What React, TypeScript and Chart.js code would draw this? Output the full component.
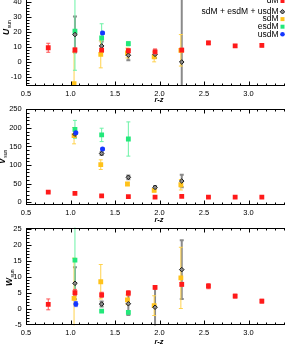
import React, { useEffect, useRef } from 'react';
import { Chart, registerables } from 'chart.js';

Chart.register(...registerables);

const FONT = "'Liberation Sans', Arial, Helvetica, sans-serif";

// ---- x positions (r-z colour bins) ----
const dmX = [0.75, 1.05, 1.35, 1.65, 1.95, 2.25, 2.55, 2.85, 3.15];
const sdmX = [1.04, 1.34, 1.64, 1.94, 2.24];
const esdmX = [1.05, 1.35, 1.65];
const usdmX = [1.06, 1.36];
const allX = [1.05, 1.35, 1.65, 1.95, 2.25];

// ---- U ----
const uDm = [9.7, 8.2, 8.1, 7.7, 6.9, 8.1, 12.9, 10.9, 11.3];
const uDmErr = [3.0, 1.3, 1.2, 1.2, 2.0, 1.3, 1.2, 1.0, 1.0];
const uSdm = [-14.2, 5.3, 6.2, 3.6, 8.0];
const uSdmErr = [21, 9, 3.3, 3.3, 10.5];
const uEsdm = [20.7, 16.2, 12.4];
const uEsdmErr = [26, 9.5, 1.5];
const uUsdm: (number | null)[] = [null, 19.6];
const uUsdmErr = [0, 1];
const uAll = [18.5, 10.9, 4.7, 5.3, 0.2];
const uAllErr = [12, 3, 3.3, 2.5, 80];

// ---- V ----
const vDm = [27, 24, 17, 15, 14, 16, 14, 14, 14];
const vDmErr = [2, 2, 2, 2, 2, 2, 2, 2, 2];
const vSdm = [179, 101, 49, 32, 47];
const vSdmErr = [22, 13, 4, 4, 14];
const vEsdm = [196, 181, 170];
const vEsdmErr = [24, 18, 46];
const vUsdm: (number | null)[] = [187, 143];
const vUsdmErr = [3, 3];
const vAll = [183, 131, 67, 40, 57];
const vAllErr = [8, 4, 5, 4, 17];

// ---- W ----
const wDm = [1.3, 5.0, 4.3, 4.8, 6.6, 7.6, 7.0, 3.9, 2.3];
const wDmErr = [1.7, 1.0, 0.8, 0.8, 0.5, 0.6, 0.8, 0.6, 0.6];
const wSdm = [3.2, 8.4, 2.7, 0.9, 9.6];
const wSdmErr = [12.6, 5.4, 1.5, 3.1, 9.6];
const wEsdm = [15.2, -0.8, -1.2];
const wEsdmErr = [11, 0.3, 0.3];
const wUsdm: (number | null)[] = [1.4, null];
const wUsdmErr = [0.8, 0];
const wAll = [7.9, 1.4, 1.5, 0.4, 12.2];
const wAllErr = [5, 0.8, 3.5, 6.2, 9.2];

const legendLabels = ['dM', 'sdM + esdM + usdM', 'sdM', 'esdM', 'usdM'];
const xTitle = 'r-z';

const STY = {
  dm: { color: '#ff1a1a', err: '#ff5252', errW: 1, style: 'rect', r: 3.4 },
  all: { color: '#1a1a1a', err: '#8a8a8a', errW: 2, style: 'rectRot', r: 2.3 },
  sdm: { color: '#ffc21a', err: '#ffd24d', errW: 1, style: 'rect', r: 3.4 },
  esdm: { color: '#22e87a', err: '#6cf2a6', errW: 1, style: 'rect', r: 3.4 },
  usdm: { color: '#1436ff', err: '#5c74ff', errW: 1, style: 'circle', r: 2.5 },
};

type PanelCfg = {
  top: number;
  height: number;
  padTop: number;
  xAxisH: number;
  yMin: number;
  yMax: number;
  yStep: number;
  yMinor: number;
  letter: string;
  titleX: number;
  titleY: number;
  xTitleOff: number;
  legend: boolean;
  series: { key: keyof typeof STY; xs: number[]; ys: (number | null)[]; es: number[] }[];
};

const PANELS: PanelCfg[] = [
  {
    top: -15, height: 122, padTop: 9.8, xAxisH: 21.45,
    yMin: -15.5, yMax: 45, yStep: 10, yMinor: 2,
    letter: 'U', titleX: 7, titleY: 35, xTitleOff: 14.7, legend: true,
    series: [
      { key: 'dm', xs: dmX, ys: uDm, es: uDmErr },
      { key: 'usdm', xs: usdmX, ys: uUsdm, es: uUsdmErr },
      { key: 'all', xs: allX, ys: uAll, es: uAllErr },
      { key: 'esdm', xs: esdmX, ys: uEsdm, es: uEsdmErr },
      { key: 'sdm', xs: sdmX, ys: uSdm, es: uSdmErr },
    ],
  },
  {
    top: 98, height: 130, padTop: 10.5, xAxisH: 23.15,
    yMin: -7, yMax: 252, yStep: 50, yMinor: 10,
    letter: 'V', titleX: 3, titleY: 164, xTitleOff: 15.3, legend: false,
    series: [
      { key: 'dm', xs: dmX, ys: vDm, es: vDmErr },
      { key: 'usdm', xs: usdmX, ys: vUsdm, es: vUsdmErr },
      { key: 'all', xs: allX, ys: vAll, es: vAllErr },
      { key: 'esdm', xs: esdmX, ys: vEsdm, es: vEsdmErr },
      { key: 'sdm', xs: sdmX, ys: vSdm, es: vSdmErr },
    ],
  },
  {
    top: 218, height: 126, padTop: 9.5, xAxisH: 18.57,
    yMin: -5.3, yMax: 25.4, yStep: 5, yMinor: 1,
    letter: 'W', titleX: 10, titleY: 286, xTitleOff: 16.3, legend: false,
    series: [
      { key: 'dm', xs: dmX, ys: wDm, es: wDmErr },
      { key: 'usdm', xs: usdmX, ys: wUsdm, es: wUsdmErr },
      { key: 'all', xs: allX, ys: wAll, es: wAllErr },
      { key: 'esdm', xs: esdmX, ys: wEsdm, es: wEsdmErr },
      { key: 'sdm', xs: sdmX, ys: wSdm, es: wSdmErr },
    ],
  },
];

const X_MIN = 0.5;
const X_MAX = 3.5;
const CANVAS_W = 298;

const errorBarPlugin = {
  id: 'errbars',
  beforeDatasetsDraw(chart: any) {
    const { ctx, chartArea: a, scales } = chart;
    ctx.save();
    ctx.beginPath();
    ctx.rect(a.left, a.top, a.right - a.left, a.bottom - a.top);
    ctx.clip();
    const dss = chart.data.datasets;
    const order = dss.map((_: any, i: number) => i).reverse();
    order.sort((i: number, j: number) => (dss[j].errW - dss[i].errW));
    for (const d of order) {
      const ds = dss[d];
      ctx.strokeStyle = ds.errColor;
      ctx.lineWidth = ds.errW;
      for (const p of ds.data) {
        if (!p.e) continue;
        const px = scales.x.getPixelForValue(p.x);
        const y1 = scales.y.getPixelForValue(p.y + p.e);
        const y2 = scales.y.getPixelForValue(p.y - p.e);
        ctx.beginPath();
        ctx.moveTo(px, y1);
        ctx.lineTo(px, y2);
        ctx.moveTo(px - 2, y1);
        ctx.lineTo(px + 2, y1);
        ctx.moveTo(px - 2, y2);
        ctx.lineTo(px + 2, y2);
        ctx.stroke();
      }
    }
    ctx.restore();
  },
};

function makeDecor(cfg: PanelCfg) {
  return {
    id: 'decor',
    afterDatasetsDraw(chart: any) {
      const { ctx, chartArea: a, scales } = chart;
      const xs = scales.x;
      const ys = scales.y;
      ctx.save();
      ctx.strokeStyle = '#000';
      ctx.lineWidth = 1;
      const L = Math.round(a.left) + 0.5;
      const R = Math.round(a.right) - 0.5;
      const T = Math.round(a.top) + 0.5;
      const B = Math.round(a.bottom) - 0.5;
      ctx.strokeRect(L, T, R - L, B - T);
      ctx.beginPath();
      for (let k = 0; ; k++) {
        const v = X_MIN + k * 0.1;
        if (v > X_MAX + 1e-9) break;
        const px = Math.round(xs.getPixelForValue(v)) + 0.5;
        const len = k % 5 === 0 ? 4 : 2;
        ctx.moveTo(px, B);
        ctx.lineTo(px, B - len);
        ctx.moveTo(px, T);
        ctx.lineTo(px, T + len);
      }
      const start = Math.ceil(cfg.yMin / cfg.yMinor) * cfg.yMinor;
      for (let v = start; v <= cfg.yMax + 1e-9; v += cfg.yMinor) {
        const py = Math.round(ys.getPixelForValue(v)) + 0.5;
        const major = Math.abs(v / cfg.yStep - Math.round(v / cfg.yStep)) < 1e-6;
        const len = major ? 5 : 3;
        ctx.moveTo(L, py);
        ctx.lineTo(L + len, py);
        ctx.moveTo(R, py);
        ctx.lineTo(R - len, py);
      }
      ctx.stroke();
      ctx.restore();
    },
    afterDraw(chart: any) {
      const { ctx, chartArea: a } = chart;
      ctx.save();
      ctx.fillStyle = '#000';
      ctx.font = `italic bold 7.5px ${FONT}`;
      ctx.textAlign = 'center';
      ctx.textBaseline = 'middle';
      ctx.fillText(xTitle, 159, a.bottom + cfg.xTitleOff);
      ctx.translate(cfg.titleX, cfg.titleY - cfg.top);
      ctx.rotate(-Math.PI / 2);
      ctx.textAlign = 'left';
      ctx.font = `italic bold 8.5px ${FONT}`;
      ctx.fillText(cfg.letter, 0, 0);
      const w = ctx.measureText(cfg.letter).width;
      ctx.font = `5px ${FONT}`;
      ctx.fillText('sun', w + 0.5, 2.5);
      ctx.restore();

      if (cfg.legend) {
        const rows = [1, 11.7, 19.1, 26.7, 34.3];
        const keys: (keyof typeof STY)[] = ['dm', 'all', 'sdm', 'esdm', 'usdm'];
        ctx.save();
        ctx.font = `8.5px ${FONT}`;
        ctx.textAlign = 'right';
        ctx.textBaseline = 'middle';
        keys.forEach((k, i) => {
          const y = rows[i] - cfg.top;
          ctx.fillStyle = '#000';
          ctx.fillText(legendLabels[i], 278.5, y);
          const s = STY[k];
          ctx.fillStyle = s.color;
          ctx.beginPath();
          if (k === 'all') {
            ctx.moveTo(282.5, y - 2.3);
            ctx.lineTo(284.8, y);
            ctx.lineTo(282.5, y + 2.3);
            ctx.lineTo(280.2, y);
            ctx.closePath();
            ctx.fillStyle = '#8c8c8c';
            ctx.fill();
            ctx.strokeStyle = '#1a1a1a';
            ctx.lineWidth = 1;
            ctx.stroke();
          } else if (k === 'usdm') {
            ctx.arc(282.5, y, 2.3, 0, Math.PI * 2);
            ctx.fill();
          } else {
            ctx.rect(280.5, y - 2, 4, 4);
            ctx.fill();
          }
        });
        ctx.restore();
      }
    },
  };
}

function Panel({ cfg }: { cfg: PanelCfg }) {
  const ref = useRef<HTMLCanvasElement>(null);
  useEffect(() => {
    const datasets = cfg.series.map((s) => {
      const st = STY[s.key];
      const data = s.xs
        .map((x, i) => (s.ys[i] === null || s.ys[i] === undefined ? null : { x, y: s.ys[i] as number, e: s.es[i] }))
        .filter((p) => p !== null);
      return {
        label: s.key,
        data,
        errColor: st.err,
        errW: st.errW,
        pointStyle: st.style,
        pointRadius: st.r,
        pointBackgroundColor: s.key === 'all' ? '#8c8c8c' : st.color,
        pointBorderColor: st.color,
        pointBorderWidth: s.key === 'all' ? 1 : 0,
        showLine: false,
      } as any;
    });
    const chart = new Chart(ref.current as HTMLCanvasElement, {
      type: 'scatter',
      data: { datasets },
      options: {
        animation: false,
        responsive: false,
        maintainAspectRatio: false,
        events: [],
        layout: { padding: { top: cfg.padTop, left: 0, right: 0, bottom: 0 } },
        plugins: { legend: { display: false }, tooltip: { enabled: false } },
        scales: {
          x: {
            type: 'linear',
            min: X_MIN,
            max: X_MAX,
            grid: { display: false, drawTicks: false },
            border: { display: false },
            ticks: {
              stepSize: 0.5,
              includeBounds: false,
              autoSkip: false,
              maxRotation: 0,
              padding: 3.5,
              color: '#000',
              font: { family: FONT, size: 7.5 },
              callback: (v: any) => Number(v).toFixed(1),
            },
            afterFit: (s: any) => {
              s.height = cfg.xAxisH;
              s.paddingLeft = 0;
              s.paddingRight = 0;
            },
          },
          y: {
            type: 'linear',
            min: cfg.yMin,
            max: cfg.yMax,
            grid: { display: false, drawTicks: false },
            border: { display: false },
            ticks: {
              stepSize: cfg.yStep,
              includeBounds: false,
              autoSkip: false,
              padding: 4.3,
              color: '#000',
              font: { family: FONT, size: 7.5 },
              callback: (v: any) => String(Math.round(Number(v))),
            },
            afterFit: (s: any) => {
              s.width = 26;
              s.paddingTop = 0;
              s.paddingBottom = 0;
            },
          },
        },
      },
      plugins: [errorBarPlugin, makeDecor(cfg)],
    });
    return () => chart.destroy();
  }, [cfg]);
  return (
    <canvas
      ref={ref}
      width={CANVAS_W}
      height={cfg.height}
      style={{ position: 'absolute', left: 0, top: cfg.top, width: CANVAS_W, height: cfg.height, display: 'block' }}
    />
  );
}

export default function App() {
  return (
    <div style={{ position: 'absolute', left: 0, top: 0, width: 285, height: 344, overflow: 'hidden', background: '#fff' }}>
      {PANELS.map((p, i) => (
        <Panel key={i} cfg={p} />
      ))}
    </div>
  );
}
